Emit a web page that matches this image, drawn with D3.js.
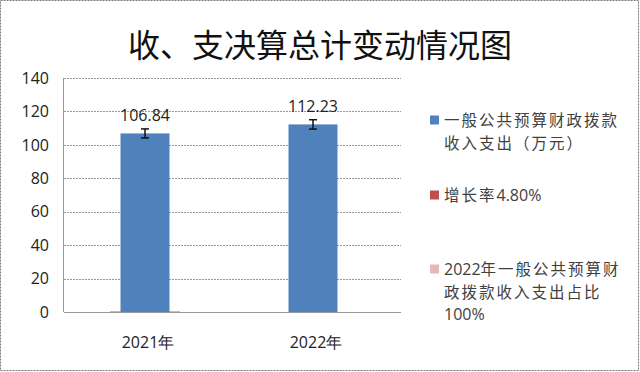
<!DOCTYPE html>
<html>
<head>
<meta charset="utf-8">
<script src="https://cdn.jsdelivr.net/npm/d3@7"></script>
<style>
  body { margin: 0; background: #fff; }
  .tick-text { font-family: 'Open Sans', sans-serif; font-size: 16px; fill: #222; }
  .legend-text { font-family: 'Noto Sans CJK SC', sans-serif; font-size: 15.5px; fill: #404040; }
  .legend-text .cjk { letter-spacing: 2px; }
  .legend-text .latin { font-family: 'Open Sans', sans-serif; font-size: 16px; }
</style>
</head>
<body>
<svg width="640" height="372"></svg>
<script>
//Data.
var categories = ['2021年', '2022年'];
var spending = [106.84, 112.23];
var spendingError = [2.7, 2.8];
var rateValues = [0.3, 0];
var shareValues = [0.3, 0];
var yTicks = [0, 20, 40, 60, 80, 100, 120, 140];
var legendLines = [
  ['一般公共预算财政拨款', '收入支出（万元）'],
  ['增长率4.80%'],
  ['2022年一般公共预算财', '政拨款收入支出占比', '100%']
];
var legendColors = ['#4f81bd', '#c0504d', '#e6b9b8'];

var svg = d3.select('svg');
var width = +svg.attr('width'), height = +svg.attr('height');

//Outer frame.
svg.append('rect')
  .attr('x', 0.5).attr('y', 0.5)
  .attr('width', width - 2).attr('height', height - 2)
  .attr('fill', '#fff')
  .attr('stroke', '#777')
  .attr('stroke-dasharray', '2,1');

//Title.
svg.append('text')
  .text('收、支决算总计变动情况图')
  .attr('x', 320).attr('y', 57)
  .attr('text-anchor', 'middle')
  .style('font-family', "'Noto Sans CJK SC', sans-serif")
  .style('font-size', '32px')
  .style('fill', '#111');

//Plot area.
var plot = {left: 64, right: 401, top: 78, bottom: 312};
var xScale = d3.scaleBand().domain(categories).range([plot.left, plot.right - 1]);
var yScale = d3.scaleLinear().domain([0, 140]).range([plot.bottom, plot.top]);
var barWidth = 49, barShift = -3;

//Gridlines.
svg.append('g').selectAll('line')
  .data(yTicks.filter(function(d) { return d > 0; }))
  .join('line')
  .attr('x1', plot.left).attr('x2', plot.right)
  .attr('y1', function(d) { return Math.round(yScale(d)) + 0.5; })
  .attr('y2', function(d) { return Math.round(yScale(d)) + 0.5; })
  .attr('stroke', '#999')
  .attr('stroke-dasharray', '2,1');

//Axes lines.
svg.append('line')
  .attr('x1', plot.left - 0.5).attr('x2', plot.left - 0.5)
  .attr('y1', plot.top).attr('y2', plot.bottom)
  .attr('stroke', '#999');
svg.append('line')
  .attr('x1', plot.left).attr('x2', plot.right)
  .attr('y1', plot.bottom + 0.5).attr('y2', plot.bottom + 0.5)
  .attr('stroke', '#999');

//Y tick labels.
svg.append('g').selectAll('text')
  .data(yTicks)
  .join('text')
  .attr('class', 'tick-text')
  .attr('x', 49)
  .attr('y', function(d) { return yScale(d); })
  .attr('dy', '0.36em')
  .attr('text-anchor', 'end')
  .text(function(d) { return d; });

//X labels.
svg.append('g').selectAll('text')
  .data(categories)
  .join('text')
  .attr('class', 'tick-text')
  .attr('x', function(d) { return xScale(d) + xScale.bandwidth() / 2; })
  .attr('y', 348)
  .attr('text-anchor', 'middle')
  .text(function(d) { return d; });

function barX(i) { return xScale(categories[i]) + xScale.bandwidth() / 2 + barShift; }

//Faint bars for the small series.
[[rateValues, legendColors[1]], [shareValues, legendColors[2]]].forEach(function(s) {
  svg.append('g').selectAll('rect')
    .data(s[0])
    .join('rect')
    .attr('x', function(d, i) { return barX(i) - 35; })
    .attr('width', 70)
    .attr('y', function(d) { return yScale(d) - 0.5; })
    .attr('height', function(d) { return d > 0 ? yScale(0) - yScale(d) + 0.5 : 0; })
    .attr('fill', s[1])
    .attr('opacity', 0.5);
});

//Main bars.
svg.append('g').selectAll('rect')
  .data(spending)
  .join('rect')
  .attr('x', function(d, i) { return barX(i) - barWidth / 2; })
  .attr('width', barWidth)
  .attr('y', function(d) { return yScale(d); })
  .attr('height', function(d) { return yScale(0) - yScale(d); })
  .attr('fill', '#4f81bd');

//Error bars.
var err = svg.append('g').attr('stroke', '#111').attr('stroke-width', 1.5);
spending.forEach(function(v, i) {
  var cx = barX(i), y1 = yScale(v + spendingError[i]), y2 = yScale(v - spendingError[i]);
  err.append('line').attr('x1', cx).attr('x2', cx).attr('y1', y1).attr('y2', y2);
  err.append('line').attr('x1', cx - 4).attr('x2', cx + 4).attr('y1', y1).attr('y2', y1);
  err.append('line').attr('x1', cx - 4).attr('x2', cx + 4).attr('y1', y2).attr('y2', y2);
});

//Data labels.
svg.append('g').selectAll('text')
  .data(spending)
  .join('text')
  .attr('class', 'tick-text')
  .attr('x', function(d, i) { return barX(i); })
  .attr('y', function(d) { return yScale(d) - 12; })
  .attr('text-anchor', 'middle')
  .text(function(d) { return d.toFixed(2); });

//Legend: CJK runs get extra spacing, digits use the Latin font.
var cjkRun = /[\u3000-\u9fff\uff00-\uffef]+|[^\u3000-\u9fff\uff00-\uffef]+/g;
var legendTops = [120, 195, 269];
legendLines.forEach(function(lines, k) {
  var g = svg.append('g');
  g.append('rect')
    .attr('x', 430).attr('y', legendTops[k] - 4.5)
    .attr('width', 9).attr('height', 9)
    .attr('fill', legendColors[k]);
  lines.forEach(function(t, j) {
    var txt = g.append('text')
      .attr('class', 'legend-text')
      .attr('x', 444)
      .attr('y', legendTops[k] + 6 + j * 22.5);
    t.match(cjkRun).forEach(function(run) {
      txt.append('tspan')
        .attr('class', /[\u3000-\u9fff\uff00-\uffef]/.test(run) ? 'cjk' : 'latin')
        .text(run);
    });
  });
});
</script>
</body>
</html>
